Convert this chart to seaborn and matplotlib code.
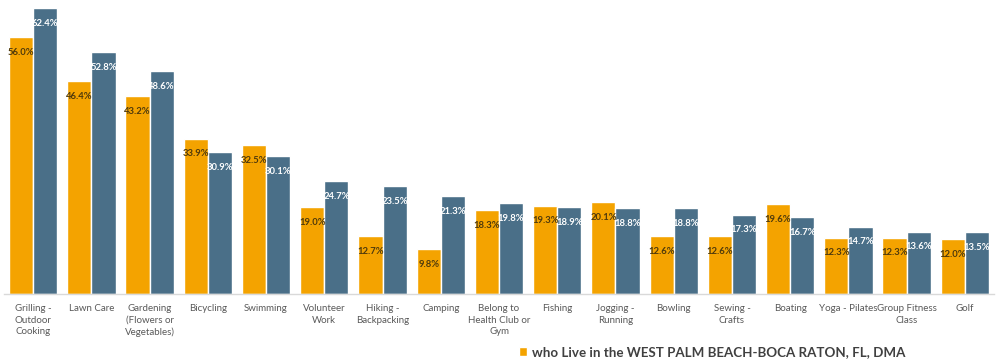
import pandas as pd
import seaborn as sns
from matplotlib import pyplot as plt
from matplotlib.patches import Patch

activities = ['Grilling -\nOutdoor\nCooking', 'Lawn Care', 'Gardening\n(Flowers or\nVegetables)',
              'Bicycling', 'Swimming', 'Volunteer\nWork', 'Hiking -\nBackpacking', 'Camping',
              'Belong to\nHealth Club or\nGym', 'Fishing', 'Jogging -\nRunning', 'Bowling',
              'Sewing -\nCrafts', 'Boating', 'Yoga - Pilates', 'Group Fitness\nClass', 'Golf']
local_pct = [56.0, 46.4, 43.2, 33.9, 32.5, 19.0, 12.7, 9.8, 18.3, 19.3, 20.1, 12.6, 12.6, 19.6, 12.3, 12.3, 12.0]
other_pct = [62.4, 52.8, 48.6, 30.9, 30.1, 24.7, 23.5, 21.3, 19.8, 18.9, 18.8, 18.8, 17.3, 16.7, 14.7, 13.6, 13.5]
series = ['who Live in the WEST PALM BEACH-BOCA RATON, FL, DMA', 'all']

df = pd.DataFrame({
    'Activity': activities * 2,
    'Pct': local_pct + other_pct,
    'Group': [series[0]] * len(activities) + [series[1]] * len(activities),
})

sns.set_style('white')
plt.rcParams['font.family'] = ['Lato', 'DejaVu Sans']

orange = '#F4A300'
blue = '#4A6F88'

fig = plt.figure(figsize=(9.99, 3.61), dpi=100)
ax = fig.add_axes([4 / 999, 67 / 361, 990 / 999, 292 / 361])
sns.barplot(data=df, x='Activity', y='Pct', hue='Group', palette=[orange, blue],
            width=0.83, legend=False, ax=ax, saturation=1)

for container, col in zip(ax.containers, ['#4F3A0C', 'white']):
    for bar in container:
        h = bar.get_height()
        ax.annotate(f'{h:.1f}%', (bar.get_x() + bar.get_width() / 2, h),
                    xytext=(0, -11), textcoords='offset points',
                    ha='center', va='center', fontsize=6.8, fontweight='bold', color=col)

ax.set_xlim(-0.5, 16.5)
ax.set_ylim(0, 63.7)
ax.set_xlabel('')
ax.set_ylabel('')
ax.set_yticks([])
ax.tick_params(axis='x', length=0, pad=7, labelsize=7, labelcolor='#595959')
for lbl in ax.get_xticklabels():
    lbl.set_linespacing(1.4)
for side in ['top', 'left', 'right']:
    ax.spines[side].set_visible(False)
ax.spines['bottom'].set_color('#D9D9D9')
ax.spines['bottom'].set_linewidth(1)

fig.legend(handles=[Patch(facecolor=orange, label=series[0])], loc='center',
           bbox_to_anchor=(712 / 999, 1 - 352 / 361), frameon=False,
           prop={'size': 9.6, 'weight': 'bold'}, labelcolor='#404040',
           handlelength=0.6, handleheight=0.6, handletextpad=0.4)

fig.savefig('out.png', dpi=100)
